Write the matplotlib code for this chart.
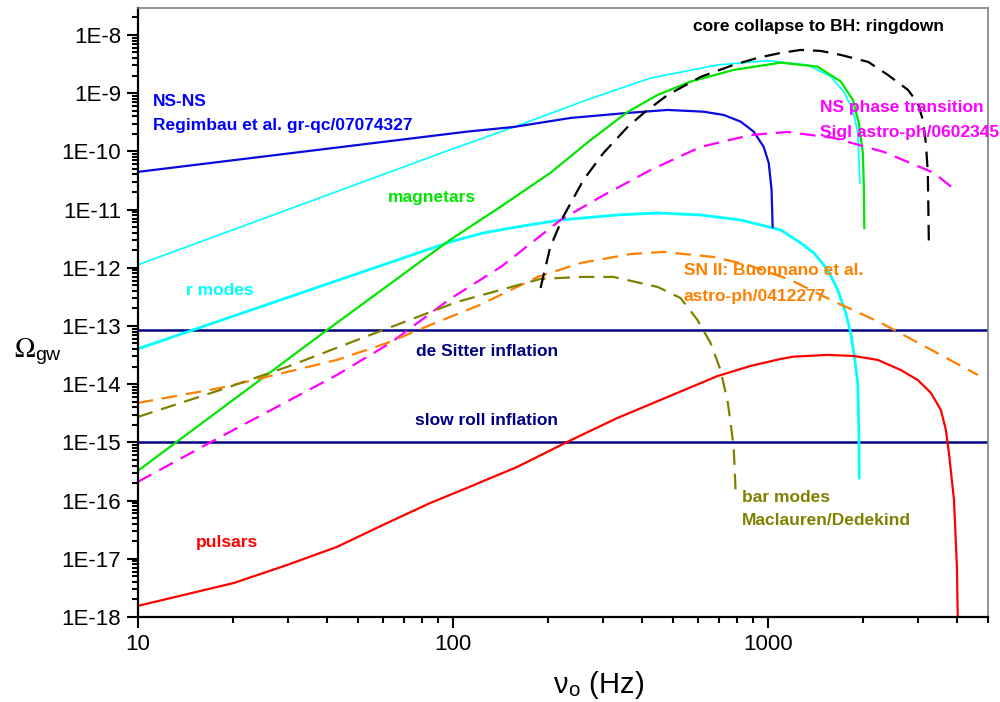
import numpy as np
import matplotlib
matplotlib.use("Agg")
import matplotlib.pyplot as plt
from matplotlib.ticker import LogLocator, FuncFormatter, NullFormatter

plt.rcParams['font.family'] = ['Liberation Sans', 'DejaVu Sans']
plt.rcParams['mathtext.fontset'] = 'stix'

# curves: frequency (Hz), Omega_gw
nsns_f = [10, 111, 156, 237, 359, 481, 625, 724, 820, 902, 970, 1007, 1028, 1036]
nsns_om = [4.43e-11, 2.18e-10, 2.62e-10, 3.75e-10, 4.57e-10, 5.14e-10, 4.8e-10,
           4.22e-10, 3.24e-10, 2.18e-10, 1.2e-10, 6.3e-11, 2.17e-11, 5.0e-12]

rthin_f = [10, 98, 160, 260, 425, 693, 997, 1340, 1585, 1742, 1862, 1930, 1946, 1960]
rthin_om = [1.12e-12, 1.06e-10, 2.73e-10, 7.3e-10, 1.82e-9, 3.05e-9, 3.61e-9,
            3.05e-9, 1.92e-9, 1.06e-9, 5.14e-10, 2.07e-10, 7.1e-11, 2.86e-11]

mag_f = [10, 39.9, 98, 142, 204, 274, 359, 447, 569, 778, 1099, 1439, 1705,
         1862, 1945, 2003, 2018, 2025]
mag_om = [3.23e-16, 8.5e-14, 3.0e-12, 1.12e-11, 4.26e-11, 1.57e-10, 4.75e-10,
          9.3e-10, 1.58e-9, 2.5e-9, 3.34e-9, 2.85e-9, 1.58e-9, 7.64e-10,
          3.08e-10, 9.4e-11, 2.44e-11, 4.8e-12]

rmode_f = [10, 33.7, 98, 125, 160, 220, 333, 447, 612, 820, 1099, 1272, 1400,
           1550, 1667, 1768, 1833, 1876, 1930, 1946, 1950]
rmode_om = [4.03e-14, 3.84e-13, 2.77e-12, 3.96e-12, 5.03e-12, 6.62e-12, 8.07e-12,
            8.74e-12, 8.07e-12, 6.62e-12, 4.46e-12, 2.67e-12, 1.8e-12, 9.2e-13,
            4.16e-13, 1.67e-13, 7.58e-14, 3.44e-14, 1.05e-14, 1.45e-15, 2.44e-16]

puls_f = [10, 20.2, 29.8, 42.9, 61.9, 84.9, 111, 160, 231, 333, 481, 693, 883,
          1099, 1208, 1550, 1876, 2234, 2643, 2992, 3294, 3543, 3676, 3758,
          3900, 3984, 4010]
puls_om = [1.55e-18, 3.84e-18, 7.82e-18, 1.6e-17, 4.12e-17, 9.1e-17, 1.65e-16,
           3.78e-16, 1.02e-15, 2.62e-15, 6.03e-15, 1.38e-14, 2.06e-14, 2.71e-14,
           2.97e-14, 3.18e-14, 3.05e-14, 2.61e-14, 1.75e-14, 1.18e-14, 7.06e-15,
           3.6e-15, 1.63e-15, 6.58e-16, 1.02e-16, 7.2e-18, 8e-19]

nspt_f = [10, 18.3, 29.2, 42.9, 63.4, 98, 142, 220, 294, 425, 612, 883, 1155,
          1619, 2334, 3367, 4010]
nspt_om = [2.09e-16, 1.24e-15, 4.75e-15, 1.44e-14, 5.1e-14, 2.91e-13, 1.03e-12,
           6.62e-12, 1.64e-11, 4.79e-11, 1.19e-10, 1.91e-10, 2.15e-10, 1.7e-10,
           9.77e-11, 4.26e-11, 2.0e-11]

sn_f = [10, 18.3, 29.8, 42.9, 61.9, 84.9, 122, 186, 255, 367, 467, 674, 863,
        1183, 1585, 2287, 4645]
sn_om = [4.75e-15, 8.6e-15, 1.62e-14, 2.61e-14, 5.1e-14, 1.04e-13, 2.3e-13,
         6.95e-13, 1.21e-12, 1.72e-12, 1.87e-12, 1.53e-12, 1.12e-12, 6.17e-13,
         2.8e-13, 1.13e-13, 1.44e-14]

bar_f = [10, 18.3, 29.8, 54.7, 103, 190, 255, 324, 447, 528, 598, 658, 708,
         747, 772, 780, 786, 791]
bar_om = [2.73e-15, 7.95e-15, 1.98e-14, 7.0e-14, 2.58e-13, 6.43e-13, 6.95e-13,
          6.95e-13, 4.68e-13, 3.03e-13, 1.27e-13, 5.1e-14, 1.75e-14, 4.75e-15,
          1.24e-15, 7.4e-16, 2.98e-16, 1.25e-16]

bh_f = [190, 204, 224, 260, 301, 359, 404, 481, 612, 778, 929, 1099, 1272, 1472,
        1705, 2082, 2404, 2784, 2992, 3105, 3175, 3221, 3246]
bh_om = [4.5e-13, 2.28e-12, 7.46e-12, 3.23e-11, 9.4e-11, 2.62e-10, 4.57e-10,
         9.3e-10, 1.9e-9, 3.05e-9, 4.03e-9, 4.91e-9, 5.52e-9, 5.31e-9, 4.53e-9,
         3.44e-9, 2.06e-9, 1.14e-9, 6.79e-10, 3.47e-10, 1.39e-10, 4.26e-11, 2.47e-12]

desitter = 8.5e-14
slowroll = 1.0e-15

fig = plt.figure(figsize=(10, 7.02), dpi=100)
ax = fig.add_axes([0.1377, 0.1211, 0.8503, 0.8675])

dash = (0, (7, 4))
ax.axhline(desitter, color='#000080', lw=1.8)
ax.axhline(slowroll, color='#000080', lw=1.8)
ax.plot(rthin_f, rthin_om, color='#00ffff', lw=1.2)
ax.plot(rmode_f, rmode_om, color='#00ffff', lw=2.0)
ax.plot(nsns_f, nsns_om, color='#0a0ae0', lw=1.6)
ax.plot(mag_f, mag_om, color='#00e600', lw=1.6)
ax.plot(puls_f, puls_om, color='#ff0000', lw=1.6)
ax.plot(nspt_f, nspt_om, color='#ff00ff', lw=1.6, linestyle=dash)
ax.plot(sn_f, sn_om, color='#ff8000', lw=1.6, linestyle=dash)
ax.plot(bar_f, bar_om, color='#808000', lw=1.6, linestyle=dash)
ax.plot(bh_f, bh_om, color='#000000', lw=1.6, linestyle=dash)

ax.set_xscale('log')
ax.set_yscale('log')
ax.set_xlim(10, 5000)
ax.set_ylim(1e-18, 2.9e-8)

ax.yaxis.set_major_locator(LogLocator(base=10, numticks=30))
ax.yaxis.set_minor_locator(LogLocator(base=10, subs=np.arange(2, 10), numticks=300))
ax.yaxis.set_major_formatter(FuncFormatter(lambda v, p: "1E%d" % round(np.log10(v))))
ax.yaxis.set_minor_formatter(NullFormatter())
ax.xaxis.set_major_locator(LogLocator(base=10, numticks=10))
ax.xaxis.set_minor_locator(LogLocator(base=10, subs=np.arange(2, 10), numticks=100))
ax.xaxis.set_major_formatter(FuncFormatter(lambda v, p: "%d" % round(v)))
ax.xaxis.set_minor_formatter(NullFormatter())

ax.tick_params(which='major', direction='out', length=8, width=1.5, labelsize=16, pad=4)
ax.tick_params(which='minor', direction='out', length=4.5, width=1.5)
for s in ['left', 'bottom']:
    ax.spines[s].set_color('black')
    ax.spines[s].set_linewidth(1.6)
for s in ['top', 'right']:
    ax.spines[s].set_color('#808080')
    ax.spines[s].set_linewidth(1.2)

kw = dict(fontsize=12.5, fontweight='bold', ha='left', va='center')
ax.text(11.18, 7.06e-10, 'NS-NS', color='#0000ff', **kw)
ax.text(11.18, 2.73e-10, 'Regimbau et al. gr-qc/07074327', color='#0000ff', **kw)
ax.text(577, 1.37e-8, 'core collapse to BH: ringdown', color='black', **kw)
ax.text(1462, 5.57e-10, 'NS phase transition', color='#ff00ff', **kw)
ax.text(1462, 2.07e-10, 'Sigl astro-ph/0602345', color='#ff00ff', **kw)
ax.text(62.4, 1.58e-11, 'magnetars', color='#00e600', **kw)
ax.text(14.2, 3.99e-13, 'r modes', color='#00ffff', **kw)
ax.text(541, 8.8e-13, 'SN II: Buonnano et al.', color='#ff8000', **kw)
ax.text(541, 3.15e-13, 'astro-ph/0412277', color='#ff8000', **kw)
ax.text(76.6, 3.57e-14, 'de Sitter inflation', color='#000080', **kw)
ax.text(76.0, 2.33e-15, 'slow roll inflation', color='#000080', **kw)
ax.text(826, 1.15e-16, 'bar modes', color='#808000', **kw)
ax.text(826, 4.47e-17, 'Maclauren/Dedekind', color='#808000', **kw)
ax.text(15.3, 1.87e-17, 'pulsars', color='#ff0000', **kw)

fig.text(0.038, 1 - 352 / 702, r'$\Omega_{\mathregular{gw}}$', fontsize=20,
         ha='center', va='center')
fig.text(0.599, 1 - 693 / 702, 'ν$_{\\mathregular{o}}$ (Hz)', fontsize=21,
         ha='center', va='baseline')

fig.savefig('out.png', dpi=100)
